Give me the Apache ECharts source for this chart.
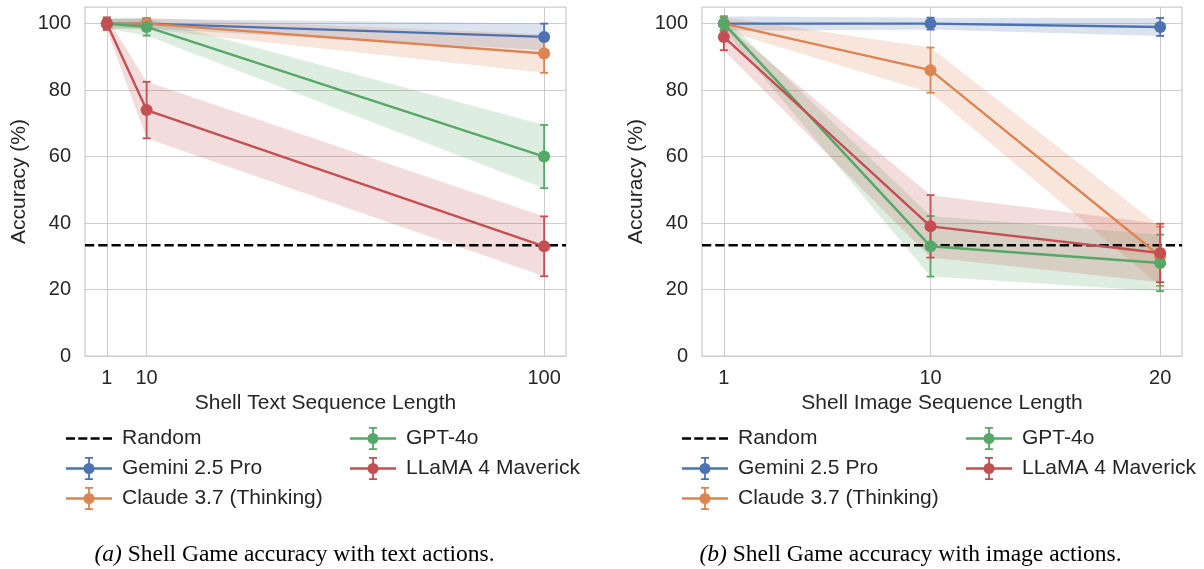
<!DOCTYPE html>
<html><head><meta charset="utf-8">
<script src="https://cdn.jsdelivr.net/npm/echarts@6/dist/echarts.min.js"></script>
<style>html,body{margin:0;padding:0;background:#fff}#c{width:1204px;height:569px}</style>
</head><body><div id="c"></div>
<script>
// ---------- data ----------
const models = ['Gemini 2.5 Pro', 'Claude 3.7 (Thinking)', 'GPT-4o', 'LLaMA 4 Maverick'];
const colors = ['#4C72B0', '#DD8452', '#55A868', '#C44E52'];

const textLengths = [1, 10, 100];
const textGemini = [100, 100, 96];
const textGeminiErr = [1.5, 1.5, 4];
const textClaude = [100, 100, 91];
const textClaudeErr = [1.5, 1.7, 5.8];
const textGPT = [100, 99, 60];
const textGPTErr = [1.5, 2.6, 9.5];
const textLlama = [100, 74, 33];
const textLlamaErr = [1.9, 8.5, 9];

const imageLengths = [1, 10, 20];
const imageGemini = [100, 100, 99];
const imageGeminiErr = [2.2, 1.8, 2.7];
const imageClaude = [100, 86, 30];
const imageClaudeErr = [2.0, 6.8, 8.9];
const imageGPT = [100, 33, 28];
const imageGPTErr = [1.9, 9.1, 8.5];
const imageLlama = [96, 39, 31];
const imageLlamaErr = [4, 9.4, 8.8];

const randomLevel = 33.33;
const yTicks = [0, 20, 40, 60, 80, 100];

// ---------- helpers ----------
const FONT = 'Liberation Sans, Arial, sans-serif';
const TXT = '#262626';
const GRIDC = '#cccccc';

function bandRender(xs, vals, errs, color) {
  return function (params, api) {
    if (params.dataIndex !== 0) return null;
    const pts = [];
    for (let i = 0; i < xs.length; i++) pts.push(api.coord([xs[i], vals[i] + errs[i]]));
    for (let i = xs.length - 1; i >= 0; i--) pts.push(api.coord([xs[i], vals[i] - errs[i]]));
    return { type: 'polygon', shape: { points: pts }, style: { fill: color, opacity: 0.2 } };
  };
}
function errRender(color) {
  return function (params, api) {
    const x = api.value(0), lo = api.value(1), hi = api.value(2);
    const p1 = api.coord([x, lo]), p2 = api.coord([x, hi]);
    const cw = 4;
    const st = { stroke: color, lineWidth: 1.8 };
    return { type: 'group', children: [
      { type: 'line', shape: { x1: p1[0], y1: p1[1], x2: p2[0], y2: p2[1] }, style: st },
      { type: 'line', shape: { x1: p1[0] - cw, y1: p1[1], x2: p1[0] + cw, y2: p1[1] }, style: st },
      { type: 'line', shape: { x1: p2[0] - cw, y1: p2[1], x2: p2[0] + cw, y2: p2[1] }, style: st }
    ] };
  };
}

function buildPanel(idx, xs, valsList, errsList, xMin, xMax) {
  const out = [];
  valsList.forEach((vals, m) => {
    out.push({
      type: 'custom', name: models[m] + ' band', xAxisIndex: idx, yAxisIndex: idx, z: 1,
      renderItem: bandRender(xs, vals, errsList[m], colors[m]),
      encode: { x: 0, y: [1, 2] },
      data: xs.map((x, i) => [x, vals[i] - errsList[m][i], vals[i] + errsList[m][i]]),
      silent: true
    });
  });
  out.push({
    type: 'line', name: 'Random', xAxisIndex: idx, yAxisIndex: idx, z: 2,
    data: [[xMin, randomLevel], [xMax, randomLevel]],
    symbol: 'none', color: '#000000',
    lineStyle: { color: '#000000', width: 2.5, type: [9.25, 4] },
    silent: true
  });
  valsList.forEach((vals, m) => {
    out.push({
      type: 'custom', name: models[m] + ' err', xAxisIndex: idx, yAxisIndex: idx, z: 3,
      renderItem: errRender(colors[m]),
      encode: { x: 0, y: [1, 2] },
      data: xs.map((x, i) => [x, vals[i] - errsList[m][i], vals[i] + errsList[m][i]]),
      silent: true
    });
    out.push({
      type: 'line', name: models[m], xAxisIndex: idx, yAxisIndex: idx, z: 3,
      data: xs.map((x, i) => [x, vals[i]]),
      symbol: 'circle', symbolSize: 12, color: colors[m],
      lineStyle: { color: colors[m], width: 2.4 },
      itemStyle: { color: colors[m], borderWidth: 0 },
      silent: true
    });
  });
  return out;
}

const ebIcon = 'path://M0,10.2 L46,10.2 L46,12.8 L0,12.8 Z M22.1,0 L23.9,0 L23.9,23 L22.1,23 Z M19,0 L27,0 L27,1.8 L19,1.8 Z M19,21.2 L27,21.2 L27,23 L19,23 Z M17.5,11.5 A5.5,5.5 0 1,1 28.5,11.5 A5.5,5.5 0 1,1 17.5,11.5 Z';
const dashIcon = 'path://M0,0 L0.01,0 L0,0.01 Z M46,23 L45.99,23 L46,22.99 Z M0,10.2 L9,10.2 L9,12.8 L0,12.8 Z M12.3,10.2 L21.3,10.2 L21.3,12.8 L12.3,12.8 Z M24.6,10.2 L33.6,10.2 L33.6,12.8 L24.6,12.8 Z M37,10.2 L46,10.2 L46,12.8 L37,12.8 Z';

function legendCol(left, items) {
  return {
    left: left, top: 427, orient: 'vertical', padding: 0, itemWidth: 46, itemHeight: 23, itemGap: 7,
    selectedMode: false, itemStyle: { borderWidth: 0 },
    textStyle: { fontFamily: FONT, fontSize: 21, color: TXT, padding: [0, 0, 0, 5] },
    data: items
  };
}
const legItem = (m) => ({ name: models[m], icon: ebIcon, itemStyle: { color: colors[m], borderWidth: 0 } });
const randItem = { name: 'Random', icon: dashIcon, itemStyle: { color: '#000000', borderWidth: 0 } };

function xAxisCfg(idx, min, max, ticks, name) {
  return {
    type: 'value', gridIndex: idx, min: min, max: max,
    axisLine: { show: false },
    axisTick: { show: false, customValues: ticks },
    axisLabel: { customValues: ticks, margin: 12, fontFamily: FONT, fontSize: 20, color: TXT },
    splitLine: { show: true, lineStyle: { color: GRIDC, width: 1 } },
    name: name, nameLocation: 'middle', nameGap: 35,
    nameTextStyle: { fontFamily: FONT, fontSize: 21, color: TXT }
  };
}
function yAxisCfg(idx) {
  return {
    type: 'value', gridIndex: idx, min: 0, max: 105,
    axisLine: { show: false },
    axisTick: { show: false, customValues: yTicks },
    axisLabel: { customValues: yTicks, margin: 14, fontFamily: FONT, fontSize: 20, color: TXT },
    splitLine: { show: true, lineStyle: { color: GRIDC, width: 1 } },
    name: 'Accuracy (%)', nameLocation: 'middle', nameGap: 55,
    nameTextStyle: { fontFamily: FONT, fontSize: 21, color: TXT }
  };
}

const capStyle = (label, rest) => ({
  text: '{i|' + label + '} ' + rest,
  align: 'center', verticalAlign: 'middle',
  fontFamily: 'Liberation Serif, Times New Roman, serif', fontSize: 23.5, fill: '#000',
  rich: { i: { fontStyle: 'italic', fontFamily: 'Liberation Serif, Times New Roman, serif', fontSize: 23.5, fill: '#000' } }
});

const option = {
  animation: false,
  backgroundColor: '#ffffff',
  grid: [
    { left: 85, right: 638, top: 7, bottom: 213, show: true, borderColor: GRIDC, borderWidth: 1.25, backgroundColor: 'transparent' },
    { left: 702, right: 22, top: 7, bottom: 213, show: true, borderColor: GRIDC, borderWidth: 1.25, backgroundColor: 'transparent' }
  ],
  xAxis: [
    xAxisCfg(0, -3.95, 104.95, textLengths, 'Shell Text Sequence Length'),
    xAxisCfg(1, 0.05, 20.95, imageLengths, 'Shell Image Sequence Length')
  ],
  yAxis: [yAxisCfg(0), yAxisCfg(1)],
  legend: [
    legendCol(66, [randItem, legItem(0), legItem(1)]),
    legendCol(350, [legItem(2), legItem(3)]),
    legendCol(682, [randItem, legItem(0), legItem(1)]),
    legendCol(966, [legItem(2), legItem(3)])
  ],
  graphic: [
    { type: 'text', x: 294.5, y: 555, style: capStyle('(a)', 'Shell Game accuracy with text actions.') },
    { type: 'text', x: 910.5, y: 555, style: capStyle('(b)', 'Shell Game accuracy with image actions.') }
  ],
  series: [].concat(
    buildPanel(0, textLengths, [textGemini, textClaude, textGPT, textLlama],
      [textGeminiErr, textClaudeErr, textGPTErr, textLlamaErr], -3.95, 104.95),
    buildPanel(1, imageLengths, [imageGemini, imageClaude, imageGPT, imageLlama],
      [imageGeminiErr, imageClaudeErr, imageGPTErr, imageLlamaErr], 0.05, 20.95)
  )
};

const chart = echarts.init(document.getElementById('c'), null, { renderer: 'canvas' });
chart.setOption(option);
</script></body></html>
